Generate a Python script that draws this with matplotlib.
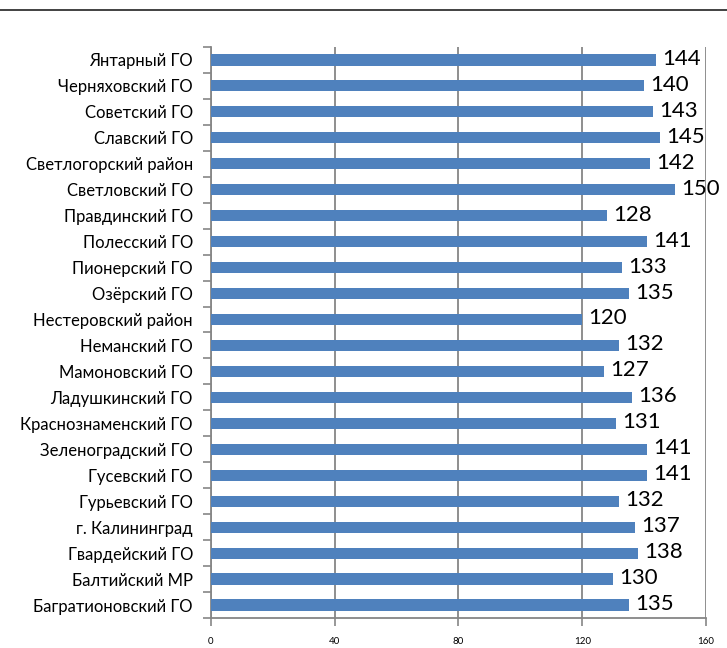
import numpy as np
import matplotlib.pyplot as plt
from matplotlib.lines import Line2D

# districts, top to bottom as in the chart
districts = [
    "Янтарный ГО", "Черняховский ГО", "Советский ГО", "Славский ГО",
    "Светлогорский район", "Светловский ГО", "Правдинский ГО", "Полесский ГО",
    "Пионерский ГО", "Озёрский ГО", "Нестеровский район", "Неманский ГО",
    "Мамоновский ГО", "Ладушкинский ГО", "Краснознаменский ГО",
    "Зеленоградский ГО", "Гусевский ГО", "Гурьевский ГО", "г. Калининград",
    "Гвардейский ГО", "Балтийский МР", "Багратионовский ГО",
]
values = [144, 140, 143, 145, 142, 150, 128, 141, 133, 135, 120, 132,
          127, 136, 131, 141, 141, 132, 137, 138, 130, 135]
x_ticks = [0, 40, 80, 120, 160]

plt.rcParams["font.family"] = ["Lato", "DejaVu Sans"]
gray = "#868686"

fig = plt.figure(figsize=(7.27, 6.48), dpi=100)
ax = fig.add_axes([0.2902, 0.0463, 0.6809, 0.8812])

pos = np.arange(len(districts))
ax.barh(pos, values, height=0.43, color="#4F81BD", zorder=3)
for p, v in zip(pos, values):
    ax.text(v + 2.0, p - 0.04, str(v), va="center", ha="left", fontsize=16, zorder=4)

ax.set_xlim(0, 160)
ax.set_ylim(len(districts) - 0.5, -0.5)
ax.set_xticks(x_ticks)
ax.set_xticklabels([str(t) for t in x_ticks], fontsize=7)
ax.set_yticks(pos)
ax.set_yticklabels(districts, fontsize=12)
ax.set_yticks(np.arange(len(districts) + 1) - 0.5, minor=True)
ax.tick_params(axis="y", which="major", length=0, pad=13)
ax.tick_params(axis="y", which="minor", length=6, color=gray, width=1.2)
ax.tick_params(axis="x", length=6, color=gray, width=1.2, pad=8)
ax.grid(axis="x", color=gray, linewidth=1.3, zorder=0)
for s in ["top", "right"]:
    ax.spines[s].set_visible(False)
for s in ["left", "bottom"]:
    ax.spines[s].set_color(gray)
    ax.spines[s].set_linewidth(1.3)

# horizontal rule at the top of the picture
fig.add_artist(Line2D([0, 1], [0.9846, 0.9846], transform=fig.transFigure,
                      color="#333333", linewidth=1.3))

fig.savefig("out.png", dpi=100)
